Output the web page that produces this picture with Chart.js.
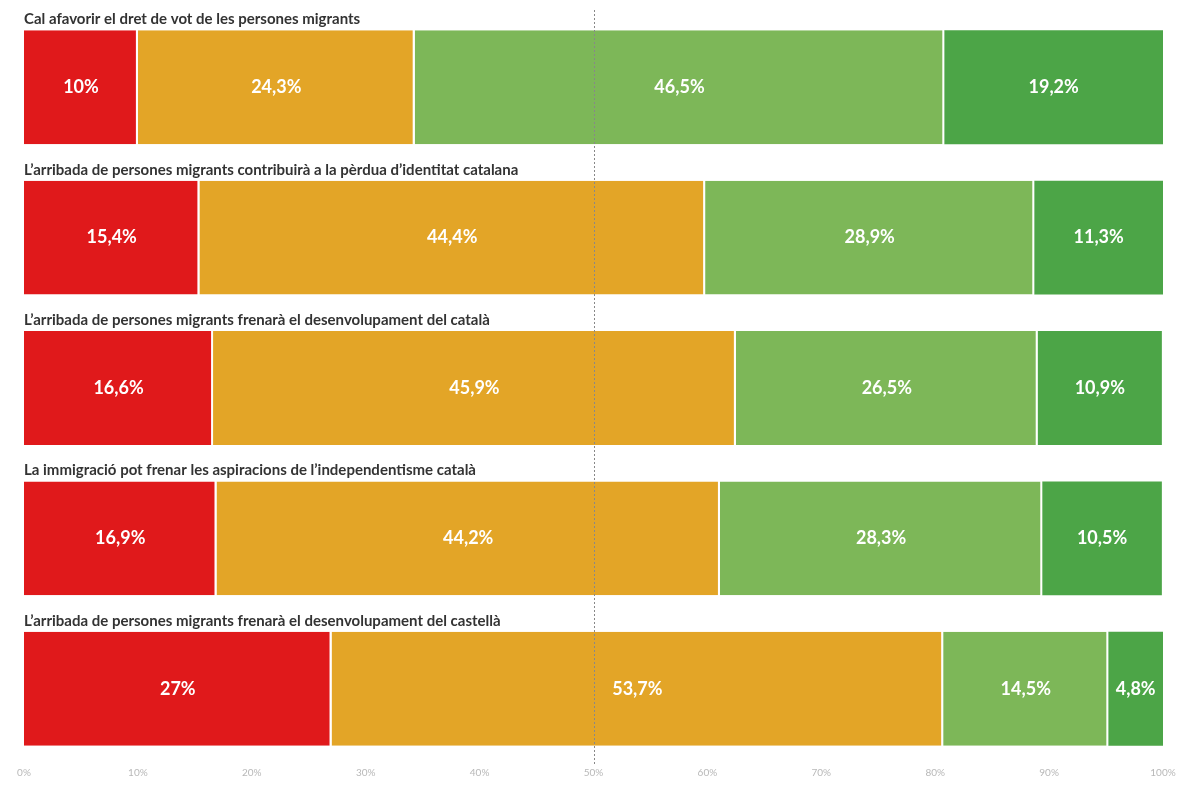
<!DOCTYPE html>
<html>
<head>
<meta charset="utf-8">
<script src="https://cdn.jsdelivr.net/npm/chart.js@4"></script>
<style>
  html, body { margin: 0; padding: 0; background: #fff; }
  #wrap { width: 1186px; height: 787px; }
</style>
</head>
<body>
<div id="wrap"><canvas id="myChart"></canvas></div>
<script>
// Data
const categories = [
  'Cal afavorir el dret de vot de les persones migrants',
  'L\u2019arribada de persones migrants contribuirà a la pèrdua d\u2019identitat catalana',
  'L\u2019arribada de persones migrants frenarà el desenvolupament del català',
  'La immigració pot frenar les aspiracions de l\u2019independentisme català',
  'L\u2019arribada de persones migrants frenarà el desenvolupament del castellà'
];
const gens = [10, 15.4, 16.6, 16.9, 27];
const poc = [24.3, 44.4, 45.9, 44.2, 53.7];
const bastant = [46.5, 28.9, 26.5, 28.3, 14.5];
const molt = [19.2, 11.3, 10.9, 10.5, 4.8];
const tickLabels = ['0%', '10%', '20%', '30%', '40%', '50%', '60%', '70%', '80%', '90%', '100%'];

const colors = ['#e0191b', '#e3a527', '#7db758', '#4ca547'];
const fontFam = 'Lato, "Open Sans", sans-serif';

// titles above each bar, values in segments, dotted 50% line
const extras = {
  id: 'extras',
  afterDatasetsDraw(chart) {
    const c = chart.ctx;
    const x = chart.scales.x;
    const area = chart.chartArea;

    c.save();
    // labels inside segments
    c.fillStyle = '#ffffff';
    c.font = 'bold 18px ' + fontFam;
    c.textAlign = 'center';
    c.textBaseline = 'middle';
    chart.data.datasets.forEach((ds, di) => {
      const meta = chart.getDatasetMeta(di);
      meta.data.forEach((bar, i) => {
        const txt = String(ds.data[i]).replace('.', ',') + '%';
        c.fillText(txt, (bar.x + bar.base) / 2, bar.y);
      });
    });

    // titles
    c.fillStyle = '#333333';
    c.font = 'bold 15px ' + fontFam;
    c.textAlign = 'left';
    c.textBaseline = 'alphabetic';
    const meta0 = chart.getDatasetMeta(0);
    categories.forEach((t, i) => {
      const bar = meta0.data[i];
      c.fillText(t, x.left, bar.y - bar.height / 2 - 6);
    });

    // dotted line at 50%
    const px = Math.round(x.getPixelForValue(50)) + 0.5;
    c.strokeStyle = '#888888';
    c.lineWidth = 1;
    c.setLineDash([2, 2]);
    c.beginPath();
    c.moveTo(px, area.top - 2);
    c.lineTo(px, area.bottom);
    c.stroke();
    c.restore();
  }
};

const ctx = document.getElementById('myChart');

const makeSet = (label, data, i) => ({
  label: label,
  data: data,
  backgroundColor: colors[i],
  borderColor: '#ffffff',
  borderWidth: i < 3 ? {left: 0, right: 2, top: 0, bottom: 0} : 0,
  borderSkipped: false,
  barPercentage: 0.757,
  categoryPercentage: 1
});

var myChart = new Chart(ctx, {
  type: 'bar',
  data: {
    labels: categories,
    datasets: [
      makeSet('Gens', gens, 0),
      makeSet('Poc', poc, 1),
      makeSet('Bastant', bastant, 2),
      makeSet('Molt', molt, 3)
    ]
  },
  options: {
    indexAxis: 'y',
    responsive: true,
    maintainAspectRatio: false,
    animation: false,
    events: [],
    layout: { padding: { top: 12, left: 24, right: 23, bottom: 0 } },
    plugins: {
      legend: { display: false },
      tooltip: { enabled: false }
    },
    scales: {
      x: {
        stacked: true,
        min: 0,
        max: 100,
        grid: { display: false, drawTicks: false },
        border: { display: false },
        afterFit: (scale) => { scale.height = 23; },
        ticks: {
          stepSize: 10,
          padding: 3,
          color: '#b8b8b8',
          font: { size: 10, family: fontFam },
          callback: (v, i) => tickLabels[i]
        }
      },
      y: {
        stacked: true,
        display: false
      }
    }
  },
  plugins: [extras]
});
</script>
</body>
</html>
